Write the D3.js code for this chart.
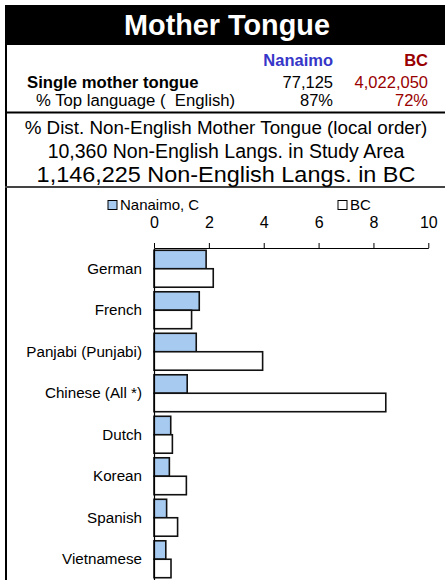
<!DOCTYPE html>
<html>
<head>
<meta charset="utf-8">
<script src="https://cdn.jsdelivr.net/npm/d3@7"></script>
<style>
  body { margin: 0; background: #fff; }
  svg { display: block; font-family: Arial, "Liberation Sans", sans-serif; }
</style>
</head>
<body>
<svg id="chart" width="445" height="580"></svg>
<script>
// chart values
var languages = ["German", "French", "Panjabi (Punjabi)", "Chinese (All *)", "Dutch", "Korean", "Spanish", "Vietnamese"];
var nanaimoValues = [1.90, 1.65, 1.54, 1.21, 0.61, 0.56, 0.46, 0.43];
var bcValues = [2.16, 1.37, 3.96, 8.45, 0.67, 1.18, 0.86, 0.62];
var seriesNames = ["Nanaimo, C", "BC"];
var xTicks = [0, 2, 4, 6, 8, 10];

// header table
var headerCols = ["Nanaimo", "BC"];
var statLabels = ["Single mother tongue", "% Top language (  English)"];
var nanaimoStats = ["77,125", "87%"];
var bcStats = ["4,022,050", "72%"];
var subtitleLines = ["% Dist. Non-English Mother Tongue (local order)",
                     "10,360 Non-English Langs. in Study Area",
                     "1,146,225 Non-English Langs. in BC"];

var W = 445, H = 580;
var blue = "#3636c8", red = "#990000", barBlue = "#a6caf0";

var svg = d3.select("#chart");

// title bar
svg.append("rect")
    .attr("x", 5).attr("y", 5)
    .attr("width", W - 5).attr("height", 40)
    .attr("fill", "#000");
svg.append("text")
    .attr("x", 227).attr("y", 35)
    .attr("text-anchor", "middle")
    .attr("fill", "#fff")
    .style("font-size", "28.8px")
    .style("font-weight", "bold")
    .text("Mother Tongue");

// left frame line
svg.append("rect")
    .attr("x", 5).attr("y", 45)
    .attr("width", 2).attr("height", H - 45)
    .attr("fill", "#000");

// stats table
var colX = [333, 428];
svg.selectAll(".colhead")
    .data(headerCols)
  .enter().append("text")
    .attr("class", "colhead")
    .attr("x", function(d, i) { return colX[i]; })
    .attr("y", 66)
    .attr("text-anchor", "end")
    .attr("fill", function(d, i) { return i === 0 ? blue : red; })
    .style("font-size", "16.5px")
    .style("font-weight", "bold")
    .text(function(d) { return d; });

var rowY = [87.5, 106];
svg.selectAll(".statlabel")
    .data(statLabels)
  .enter().append("text")
    .attr("class", "statlabel")
    .attr("x", function(d, i) { return i === 0 ? 27 : 36; })
    .attr("y", function(d, i) { return rowY[i]; })
    .style("font-size", "16.7px")
    .style("font-weight", function(d, i) { return i === 0 ? "bold" : "normal"; })
    .style("white-space", "pre")
    .text(function(d) { return d; });

[nanaimoStats, bcStats].forEach(function(vals, c) {
  svg.selectAll(".stat" + c)
      .data(vals)
    .enter().append("text")
      .attr("class", "stat" + c)
      .attr("x", colX[c])
      .attr("y", function(d, i) { return rowY[i]; })
      .attr("text-anchor", "end")
      .attr("fill", c === 0 ? "#000" : red)
      .style("font-size", "16.5px")
      .text(function(d) { return d; });
});

// divider lines
svg.append("rect").attr("x", 5).attr("y", 111.5).attr("width", W - 5).attr("height", 2).attr("fill", "#000");
svg.append("rect").attr("x", 5).attr("y", 186).attr("width", W - 5).attr("height", 2).attr("fill", "#444");

// subtitle lines (last one is drawn a bit wider, like the source)
var subY = [134, 158, 181.5];
var subSize = ["18.8px", "19.5px", "21.5px"];
var subStretch = [1, 1, 1.09];
svg.selectAll(".sub")
    .data(subtitleLines)
  .enter().append("text")
    .attr("class", "sub")
    .attr("transform", function(d, i) { return "translate(226," + subY[i] + ") scale(" + subStretch[i] + ",1)"; })
    .attr("text-anchor", "middle")
    .style("font-size", function(d, i) { return subSize[i]; })
    .text(function(d) { return d; });

// scales
var x = d3.scaleLinear()
    .domain([0, 10])
    .range([154, 428.3]);

var y = d3.scaleBand()
    .domain(languages)
    .range([248, 580])
    .paddingInner(0.11)
    .paddingOuter(0.055);

var ySub = d3.scaleBand()
    .domain(seriesNames)
    .range([0, y.bandwidth()]);

// x axis on top
var xAxis = svg.append("g")
    .attr("transform", "translate(0,248)")
    .call(d3.axisTop(x).tickValues(xTicks).tickSize(5).tickPadding(15).tickSizeOuter(0));
xAxis.select(".domain").attr("stroke", "#000");
xAxis.selectAll(".tick line").attr("stroke", "#000");
xAxis.selectAll(".tick text")
    .attr("fill", "#000")
    .style("font-size", "16px")
    .style("font-family", "Arial, 'Liberation Sans', sans-serif");

// bars
var rows = languages.map(function(lang, i) {
  return {lang: lang, values: [nanaimoValues[i], bcValues[i]]};
});

var groups = svg.selectAll(".grp")
    .data(rows)
  .enter().append("g")
    .attr("class", "grp")
    .attr("transform", function(d) { return "translate(0," + y(d.lang) + ")"; });

groups.selectAll("rect")
    .data(function(d) { return d.values.map(function(v, j) { return {name: seriesNames[j], value: v}; }); })
  .enter().append("rect")
    .attr("x", x(0))
    .attr("y", function(d) { return ySub(d.name); })
    .attr("width", function(d) { return x(d.value) - x(0); })
    .attr("height", ySub.bandwidth())
    .attr("fill", function(d, j) { return j === 0 ? barBlue : "#fff"; })
    .attr("stroke", "#111")
    .attr("stroke-width", 1.6);

// category axis
var yAxis = svg.append("g")
    .attr("transform", "translate(" + x(0) + ",0)")
    .call(d3.axisLeft(y).tickSize(0).tickPadding(12));
yAxis.select(".domain").attr("stroke", "#000").attr("stroke-width", 1.2);
yAxis.selectAll(".tick text")
    .attr("fill", "#000")
    .style("font-size", "15.2px")
    .style("font-family", "Arial, 'Liberation Sans', sans-serif");

// legend
var legX = [108, 338];
var leg = svg.selectAll(".leg")
    .data(seriesNames)
  .enter().append("g")
    .attr("class", "leg")
    .attr("transform", function(d, i) { return "translate(" + legX[i] + ",200.5)"; });
leg.append("rect")
    .attr("width", 9).attr("height", 9)
    .attr("fill", function(d, i) { return i === 0 ? barBlue : "#fff"; })
    .attr("stroke", "#000")
    .attr("stroke-width", 1);
leg.append("text")
    .attr("x", 12).attr("y", 9.5)
    .style("font-size", "15px")
    .text(function(d) { return d; });
</script>
</body>
</html>
